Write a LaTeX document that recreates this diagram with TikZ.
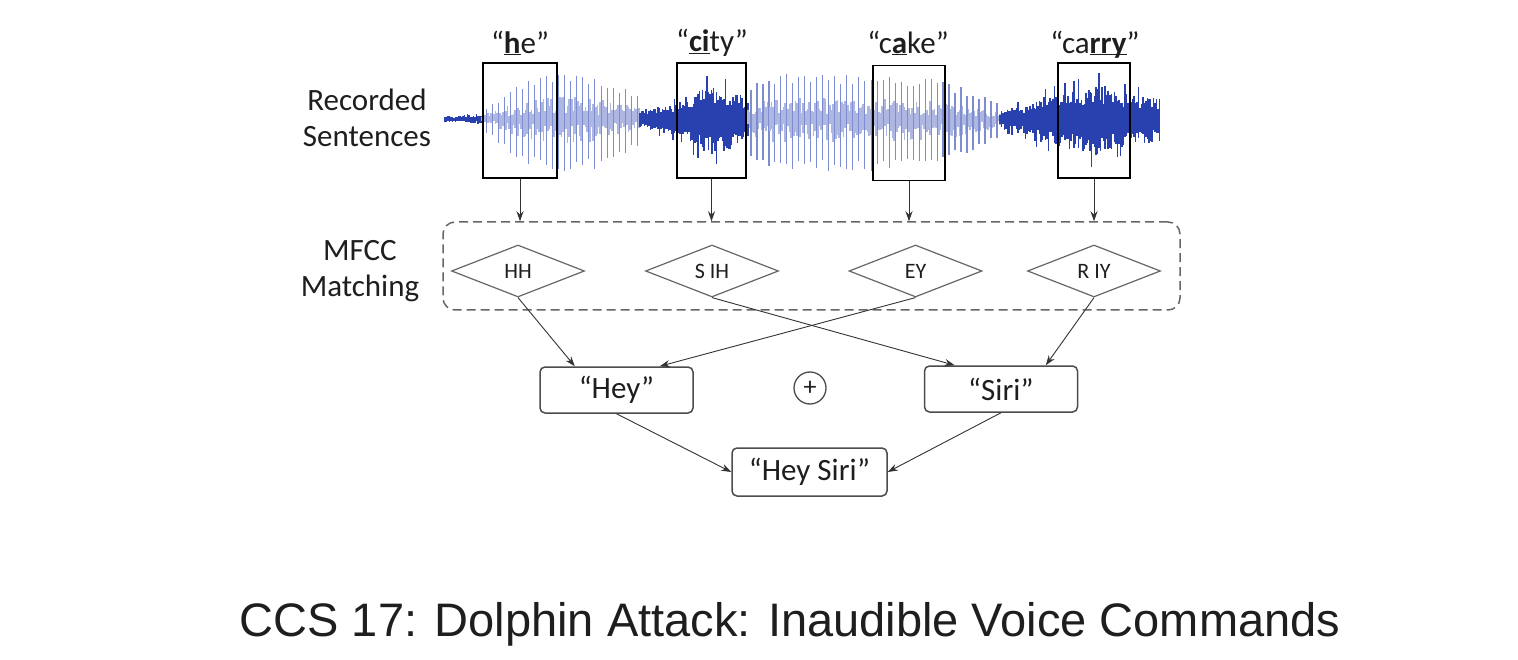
\documentclass[tikz,border=0pt]{standalone}
\usepackage{fontspec}
\setmainfont{Carlito}
\newfontfamily\capfont{Liberation Sans}
\usetikzlibrary{shapes.geometric,arrows.meta,calc}
\definecolor{wavec}{RGB}{40,65,175}
\definecolor{txt}{RGB}{30,30,30}
\newcommand\ulb[1]{\underline{\smash{\textbf{#1}}}}
\begin{document}
\begin{tikzpicture}[x=1pt,y=-1pt,
  wordbox/.style={draw=black, line width=1.8, minimum width=74, minimum height=115, inner sep=0},
  phon/.style={draw=black!60, diamond, line width=1.2, minimum width=133, minimum height=52, aspect=2.5, inner sep=0, font=\fontsize{22}{24}\selectfont, text=txt},
  wordnode/.style={draw=black!70, rounded corners=5, line width=1.5, minimum width=153, minimum height=46, inner sep=0, font=\fontsize{31}{34}\selectfont, text=txt},
  arr/.style={-{Stealth[length=10,width=7]}, line width=0.9, draw=black!80},
  lab/.style={font=\fontsize{31}{36}\selectfont, align=center, text=txt},
  qlab/.style={font=\fontsize{31}{36}\selectfont, text=txt, inner sep=0}
]
\useasboundingbox[fill=white] (0,0) rectangle (1518,660);

% waveform: segments x0/x1/amp0/amp1/dense
\pgfmathsetseed{42}
\foreach \xa/\xb/\ea/\eb/\dn in {
  445/482/3/4/1, 482/515/8/32/0, 515/560/32/46/0, 560/600/46/40/0, 600/640/40/22/0,
  640/680/9/16/1, 680/712/20/34/1, 712/748/34/22/1,
  748/770/28/44/0, 770/870/44/42/0, 870/940/42/38/0, 940/1000/38/16/0,
  1000/1035/9/16/1, 1035/1090/20/32/1, 1090/1110/34/34/1, 1110/1160/28/20/1}{
  \pgfmathsetmacro{\xe}{\xa+1.5}
  \foreach \x in {\xa,\xe,...,\xb}{
    \pgfmathsetmacro{\e}{\ea+(\eb-\ea)*(\x-\xa)/(\xb-\xa)}
    \pgfmathtruncatemacro{\k}{round((\x-445)/1.5)}
    \pgfmathtruncatemacro{\sp}{mod(\k,4)==0 ? 1 : 0}
    \ifnum\dn=1
      \pgfmathsetmacro{\fu}{rnd>0.94 ? 1.35 : 0.45+0.55*rnd}
      \pgfmathsetmacro{\fd}{rnd>0.94 ? 1.4 : 0.5+0.6*rnd}
      \draw[color=wavec, line width=1.3] (\x,119-\e*\fu) -- (\x,119+\e*\fd);
    \else
      \ifnum\sp=1
        \pgfmathsetmacro{\fu}{0.8+0.25*rnd}
        \pgfmathsetmacro{\fd}{0.95+0.3*rnd}
        \draw[color=wavec!60, line width=1.7] (\x,119-\e*\fu) -- (\x,119+\e*\fd);
      \else
        \pgfmathsetmacro{\fu}{0.1+0.4*rnd}
        \pgfmathsetmacro{\fd}{0.1+0.45*rnd}
        \draw[color=wavec!38, line width=1.5] (\x,119-\e*\fu) -- (\x,119+\e*\fd);
      \fi
    \fi
  }
}

% word boxes and labels
\node[wordbox] (b1) at (520,120.5) {};
\node[wordbox, minimum width=69] (b2) at (711.5,120.5) {};
\node[wordbox, minimum width=72] (b3) at (909,123) {};
\node[wordbox, minimum width=72] (b4) at (1094,120.5) {};

\node[qlab] (w1) at (520,43) {“\ulb{h}e”};
\node[qlab] (w2) at (712,43) {“\ulb{ci}ty”};
\node[qlab] (w3) at (908,43) {“c\ulb{a}ke”};
\node[qlab] (w4) at (1095,43) {“ca\ulb{rry}”};

\node[lab] (rs) at (367,118) {Recorded\\Sentences};
\node[lab] (mm) at (360,271) {MFCC\\Matching};

% MFCC box
\node[draw=black!60, dash pattern=on 9pt off 5pt, rounded corners=12, line width=1.5, minimum width=737, minimum height=88] (mfcc) at (811.5,266) {};

\foreach \b in {b1,b2,b3,b4}{
  \draw[arr] (\b.south) -- (\b.south |- mfcc.north);
}

\node[phon] (d1) at (518,271) {HH};
\node[phon] (d2) at (712,271) {S IH};
\node[phon] (d3) at (915.5,271) {EY};
\node[phon] (d4) at (1094,271) {R IY};

% words
\node[wordnode] (hey) at (616.5,390) {“Hey”};
\node[draw=black!70, line width=1.3, circle, minimum size=32, inner sep=0, font=\fontsize{26}{28}\selectfont, text=txt] (plus) at (810,388) {+};
\node[wordnode] (siri) at (1001,389) {“Siri”};
\node[wordnode, minimum width=155, minimum height=48] (hs) at (809.5,472) {“Hey Siri”};

\draw[arr] (d1.south) -- ($(hey.north west)!0.23!(hey.north east)$);
\draw[arr] (d3.south) -- ($(hey.north west)!0.78!(hey.north east)$);
\draw[arr] (d2.south) -- ($(siri.north west)!0.2!(siri.north east)$);
\draw[arr] (d4.south) -- ($(siri.north west)!0.79!(siri.north east)$);
\draw[arr] (hey.south) -- (hs.west);
\draw[arr] (siri.south) -- (hs.east);

\node[font=\capfont\fontsize{47}{50}\selectfont, text=txt] (cap) at (790,624) {CCS 17: Dolphin Attack: Inaudible Voice Commands};
\end{tikzpicture}
\end{document}
